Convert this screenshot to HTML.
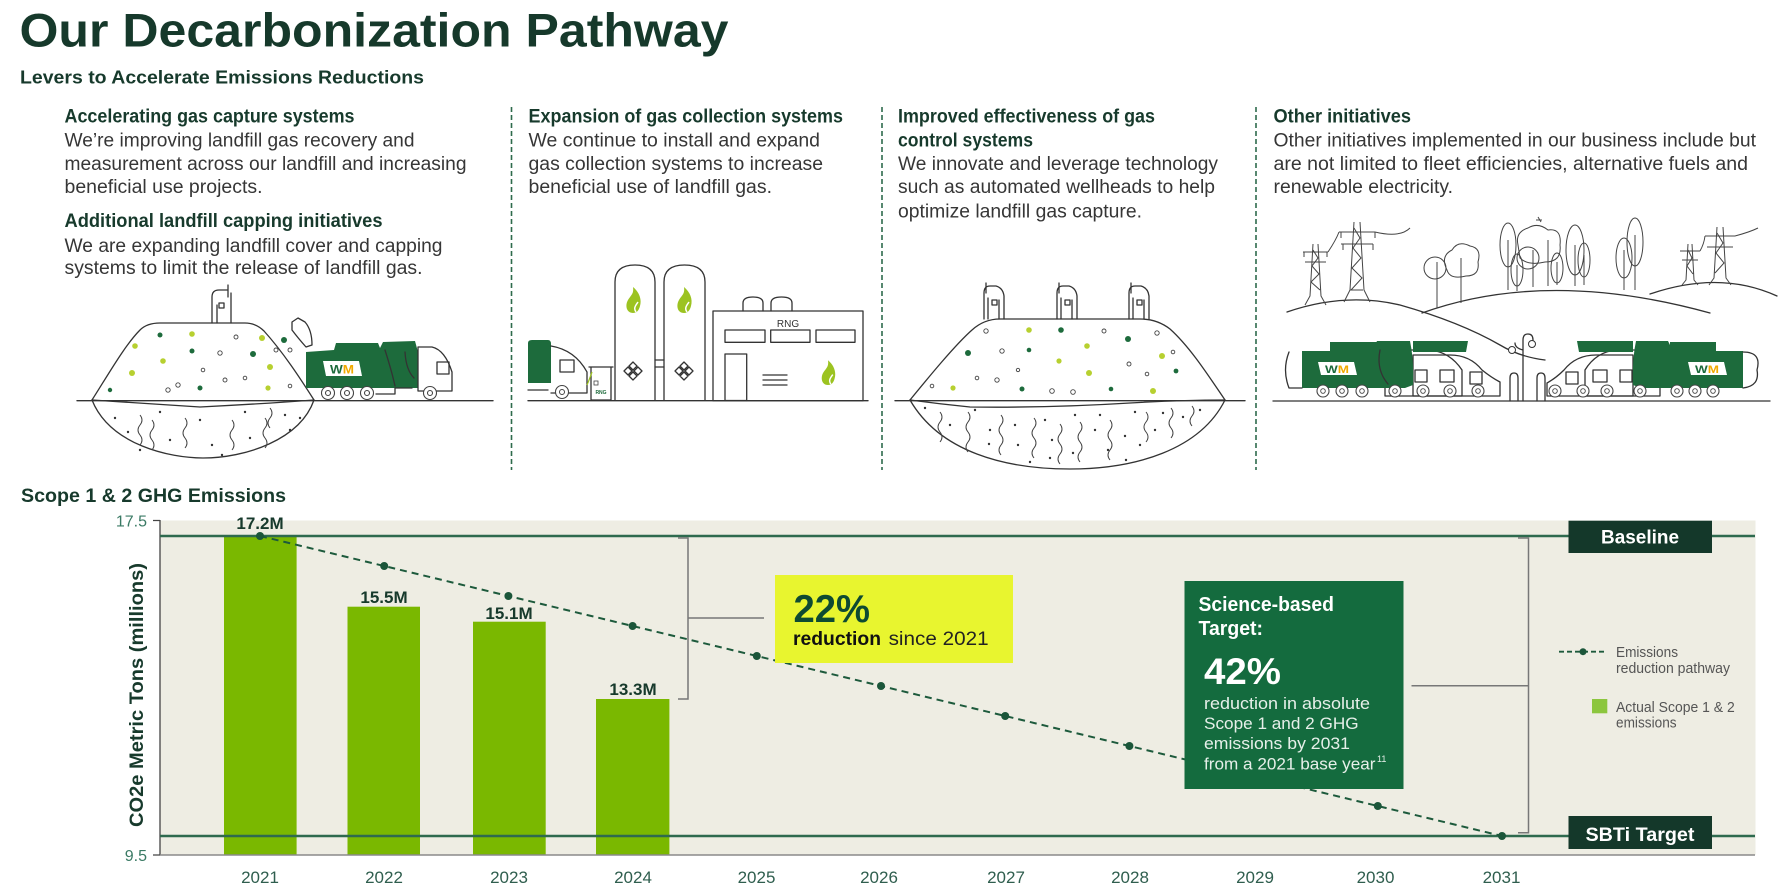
<!DOCTYPE html>
<html><head><meta charset="utf-8"><style>
html,body{margin:0;padding:0;background:#fff;}
svg{display:block;}
text{font-family:"Liberation Sans",Arial,sans-serif;}
.h{font-weight:bold;fill:#173a2c;font-size:19px;}
.b{fill:#363636;font-size:19px;}
.yr{fill:#2f5e4e;font-size:17px;text-anchor:middle;}
.dl{fill:#173a2c;font-size:17px;font-weight:bold;text-anchor:middle;}
.ln{fill:none;stroke:#333;stroke-width:1.3;stroke-linecap:round;stroke-linejoin:round;}
.lt{fill:none;stroke:#444;stroke-width:1;}
.dg{fill:#1d6b3c;}
.lm{fill:#b7d030;}
.wd{fill:#fff;stroke:#444;stroke-width:0.9;}
</style></head><body>
<svg width="1778" height="896" viewBox="0 0 1778 896" xmlns="http://www.w3.org/2000/svg">
<rect width="1778" height="896" fill="#fff"/>

<!-- Title -->
<text x="19.5" y="46.5" font-size="47" font-weight="bold" fill="#16392b" textLength="709" lengthAdjust="spacingAndGlyphs">Our Decarbonization Pathway</text>
<text x="20" y="83.5" font-size="18" font-weight="bold" fill="#173a2c" textLength="404" lengthAdjust="spacingAndGlyphs">Levers to Accelerate Emissions Reductions</text>

<!-- Column 1 text -->
<text class="h" x="64.5" y="122.5" textLength="290" lengthAdjust="spacingAndGlyphs">Accelerating gas capture systems</text>
<text class="b" x="64.5" y="146.5" textLength="350" lengthAdjust="spacingAndGlyphs">We’re improving landfill gas recovery and</text>
<text class="b" x="64.5" y="170" textLength="402" lengthAdjust="spacingAndGlyphs">measurement across our landfill and increasing</text>
<text class="b" x="64.5" y="193" textLength="198" lengthAdjust="spacingAndGlyphs">beneficial use projects.</text>
<text class="h" x="64.5" y="227" textLength="318" lengthAdjust="spacingAndGlyphs">Additional landfill capping initiatives</text>
<text class="b" x="64.5" y="252" textLength="378" lengthAdjust="spacingAndGlyphs">We are expanding landfill cover and capping</text>
<text class="b" x="64.5" y="274" textLength="358" lengthAdjust="spacingAndGlyphs">systems to limit the release of landfill gas.</text>

<!-- Column 2 text -->
<text class="h" x="528.5" y="122.5" textLength="314.5" lengthAdjust="spacingAndGlyphs">Expansion of gas collection systems</text>
<text class="b" x="528.5" y="146.5" textLength="291.5" lengthAdjust="spacingAndGlyphs">We continue to install and expand</text>
<text class="b" x="528.5" y="170" textLength="294.5" lengthAdjust="spacingAndGlyphs">gas collection systems to increase</text>
<text class="b" x="528.5" y="193" textLength="243.5" lengthAdjust="spacingAndGlyphs">beneficial use of landfill gas.</text>

<!-- Column 3 text -->
<text class="h" x="898" y="122.5" textLength="257" lengthAdjust="spacingAndGlyphs">Improved effectiveness of gas</text>
<text class="h" x="898" y="146.5" textLength="135" lengthAdjust="spacingAndGlyphs">control systems</text>
<text class="b" x="898" y="170" textLength="320" lengthAdjust="spacingAndGlyphs">We innovate and leverage technology</text>
<text class="b" x="898" y="193" textLength="317" lengthAdjust="spacingAndGlyphs">such as automated wellheads to help</text>
<text class="b" x="898" y="217.5" textLength="244" lengthAdjust="spacingAndGlyphs">optimize landfill gas capture.</text>

<!-- Column 4 text -->
<text class="h" x="1273.5" y="122.5" textLength="137.5" lengthAdjust="spacingAndGlyphs">Other initiatives</text>
<text class="b" x="1273.5" y="146.5" textLength="482.5" lengthAdjust="spacingAndGlyphs">Other initiatives implemented in our business include but</text>
<text class="b" x="1273.5" y="170" textLength="474.5" lengthAdjust="spacingAndGlyphs">are not limited to fleet efficiencies, alternative fuels and</text>
<text class="b" x="1273.5" y="193" textLength="179.5" lengthAdjust="spacingAndGlyphs">renewable electricity.</text>

<!-- Dividers -->
<g stroke="#2e6b4c" stroke-width="1.6" stroke-dasharray="5 3">
<line x1="511.5" y1="107" x2="511.5" y2="470"/>
<line x1="882" y1="107" x2="882" y2="470"/>
<line x1="1256" y1="107" x2="1256" y2="470"/>
</g>

<!-- ===== Illustration 1: landfill + truck ===== -->
<g>
<path class="ln" d="M77,400.7 H493"/>
<path class="ln" d="M92,400 C108,375 125,345 140,330 Q147,323 160,323 H245 Q256,323 264,331 C283,352 300,378 314,400"/>
<path class="ln" d="M92,400 C110,445 170,458 203,458 C245,458 300,440 314,400"/>
<path class="ln" d="M92,400 Q150,404 200,407 Q260,404 314,400"/>
<path class="ln" d="M212,323 V297 Q212,290 219,290 H227 M231,323 V293 M217,323 V305 M219,303 h5 v5 h-5 z M228,285 v12"/>
<g class="lt">
<path d="M140,415 q4,5 0,10 t0,10 t0,10"/><path d="M152,420 q4,5 0,10 t0,10 t0,10"/>
<path d="M185,418 q4,5 0,10 t0,10 t0,10"/><path d="M232,420 q4,5 0,10 t0,10 t0,10"/>
<path d="M265,418 q4,5 0,10 t0,10 t0,10"/><path d="M270,408 q4,5 0,10 t0,10"/>
</g>
<g fill="#333">
<circle cx="115" cy="418" r="1.2"/><circle cx="128" cy="432" r="1.2"/><circle cx="160" cy="412" r="1.2"/><circle cx="170" cy="440" r="1.2"/><circle cx="200" cy="420" r="1.2"/><circle cx="212" cy="445" r="1.2"/><circle cx="245" cy="412" r="1.2"/><circle cx="250" cy="438" r="1.2"/><circle cx="285" cy="415" r="1.2"/><circle cx="290" cy="430" r="1.2"/><circle cx="140" cy="450" r="1.2"/><circle cx="222" cy="455" r="1.2"/><circle cx="300" cy="418" r="1.2"/>
</g>
<g>
<circle class="dg" cx="160" cy="335" r="2.5"/><circle class="lm" cx="192" cy="334" r="2.8"/><circle class="wd" cx="236" cy="337" r="2"/><circle class="lm" cx="262" cy="338" r="3"/>
<circle class="lm" cx="135" cy="346" r="2.8"/><circle class="dg" cx="192" cy="351" r="2.5"/><circle class="wd" cx="220" cy="353" r="2.2"/><circle class="dg" cx="253" cy="354" r="3"/><circle class="wd" cx="276" cy="350" r="2"/>
<circle class="lm" cx="163" cy="361" r="2.8"/><circle class="wd" cx="203" cy="370" r="1.8"/><circle class="lm" cx="270" cy="367" r="3"/>
<circle class="lm" cx="132" cy="373" r="3"/><circle class="wd" cx="225" cy="380" r="2"/><circle class="wd" cx="245" cy="378" r="1.8"/><circle class="wd" cx="178" cy="385" r="2.2"/><circle class="wd" cx="168" cy="390" r="2.2"/>
<circle class="dg" cx="110" cy="390" r="2.2"/><circle class="dg" cx="200" cy="388" r="2.5"/><circle class="lm" cx="268" cy="388" r="2.6"/><circle class="wd" cx="290" cy="386" r="1.8"/><circle class="wd" cx="290" cy="350" r="2"/><circle class="dg" cx="284" cy="340" r="3"/>
</g>
<path class="ln" d="M292,322 L298,318 L305,322 Q312,330 312,345 L306,347 Q298,338 292,330 Z"/>
<path class="dg" d="M306,352 L334,350 L336,343 L378,343 L380,348 L383,342 L415,341 L418,352 L418,388 L306,388 Z"/>
<path class="ln" fill="#fff" d="M418,347 H432 Q445,350 452,372 V391 H418 Z"/>
<path class="ln" d="M437,362 h12 v12 h-12 z M385,350 Q392,372 395,386 M405,352 Q406,370 414,378"/>
<path fill="#fff" d="M323,361 H359 L362,376 H326 Z"/>
<text x="330" y="373.5" font-size="12" font-weight="bold" fill="#1d6b3c" textLength="24" lengthAdjust="spacingAndGlyphs">W<tspan fill="#f2a900">M</tspan></text>
<g fill="#fff" stroke="#444" stroke-width="1.1">
<circle cx="328" cy="393" r="6.5"/><circle cx="347" cy="393" r="6.5"/><circle cx="367" cy="393" r="6.5"/><circle cx="430" cy="393" r="6.5"/>
<circle cx="328" cy="393" r="2.5"/><circle cx="347" cy="393" r="2.5"/><circle cx="367" cy="393" r="2.5"/><circle cx="430" cy="393" r="2.5"/>
</g>
<path class="ln" d="M376,394 H395 V388 H412"/>
</g>

<!-- ===== Illustration 2: RNG plant ===== -->
<g>
<path class="ln" d="M528,400.7 H868"/>
<path class="ln" fill="#fff" d="M615,400 V282 Q615,265 635,265 Q655,265 655,282 V400"/>
<path class="ln" fill="#fff" d="M664,400 V282 Q664,265 684.5,265 Q705,265 705,282 V400"/>
<path class="ln" d="M655,360 H664 M655,367 H664"/>
<g transform="translate(633,313)"><path fill="#9cc321" d="M0,0 C-7,0 -8,-8 -5,-13 C-2,-18 1,-19 0,-26 C6,-21 9,-14 7,-7 C6,-3 4,0 0,0 Z"/><path d="M3,-1 C0,-5 3,-8 5,-11" stroke="#fff" stroke-width="1.5" fill="none"/></g>
<g transform="translate(684,313)"><path fill="#9cc321" d="M0,0 C-7,0 -8,-8 -5,-13 C-2,-18 1,-19 0,-26 C6,-21 9,-14 7,-7 C6,-3 4,0 0,0 Z"/><path d="M3,-1 C0,-5 3,-8 5,-11" stroke="#fff" stroke-width="1.5" fill="none"/></g>
<g class="ln" stroke-width="1">
<path d="M633,366 l4,4 l-4,4 l-4,-4 z M633,376 l4,4 l-4,4 l-4,-4 z M628,371 l4,4 l-4,4 l-4,-4 z M638,371 l4,4 l-4,4 l-4,-4 z" transform="translate(0,-4)"/>
<path d="M684,366 l4,4 l-4,4 l-4,-4 z M684,376 l4,4 l-4,4 l-4,-4 z M679,371 l4,4 l-4,4 l-4,-4 z M689,371 l4,4 l-4,4 l-4,-4 z" transform="translate(0,-4)"/>
</g>
<path class="ln" d="M743,311 V303 Q743,297 753,297 Q763,297 763,303 V311 M771,311 V303 Q771,297 781.5,297 Q792,297 792,303 V311"/>
<rect class="ln" x="713" y="311" width="150" height="89.7"/>
<text x="788" y="327" font-size="10" fill="#333" text-anchor="middle">RNG</text>
<rect class="ln" x="725" y="330" width="40" height="12.3"/>
<rect class="ln" x="770.7" y="330" width="39.3" height="12.3"/>
<rect class="ln" x="816" y="330" width="39" height="12.3"/>
<rect class="ln" x="725" y="354" width="21.7" height="46.5"/>
<path class="ln" d="M763,375 H787 M763,380 H787 M763,385 H787"/>
<g transform="translate(828,385) scale(0.95)"><path fill="#9cc321" d="M0,0 C-7,0 -8,-8 -5,-13 C-2,-18 1,-19 0,-26 C6,-21 9,-14 7,-7 C6,-3 4,0 0,0 Z"/><path d="M3,-1 C0,-5 3,-8 5,-11" stroke="#fff" stroke-width="1.5" fill="none"/></g>
<path class="dg" d="M528,343 Q528,340 532,340 H548 Q551,340 551,344 V383 H528 Z"/>
<path class="ln" d="M551,346 Q575,350 587,372 V393 H551 M560,360 h14 v12 h-14 z M528,390 H548"/>
<circle cx="562" cy="392" r="6.5" fill="#fff" stroke="#444" stroke-width="1.1"/><circle cx="562" cy="392" r="2.5" fill="none" stroke="#444"/>
<path class="ln" d="M589,367 H613 M591,367 V400 H611 V367"/>
<rect x="594" y="381" width="4" height="4" fill="none" stroke="#444" stroke-width="0.8"/>
<text x="601" y="394" font-size="5" fill="#1d6b3c" text-anchor="middle" font-weight="bold">RNG</text>
<path d="M587,385 Q590,378 592,372" stroke="#9cc321" stroke-width="1.2" fill="none"/>
</g>

<!-- ===== Illustration 3: landfill wellheads ===== -->
<g>
<path class="ln" d="M895,400.7 H1245"/>
<path class="ln" d="M910,400 C928,378 955,345 972,330 Q984,319 1000,319 H1140 Q1157,319 1170,329 C1190,347 1208,375 1225,400"/>
<path class="ln" d="M910,400 C940,452 1005,469 1070,469 C1135,469 1200,450 1225,400"/>
<path class="ln" d="M910,400 Q940,404 970,407 Q1050,408 1130,403 Q1180,400 1225,400"/>
<g class="ln" stroke-width="1.1">
<path d="M984,319 V293 Q984,286 990,286 H996 Q1003,288 1004,296 V319 M988,319 V298 M999,319 V300 M992,300 h5 v5 h-5 z M986,283 v10"/>
<path d="M1057,319 V293 Q1057,286 1063,286 H1069 Q1076,288 1077,296 V319 M1061,319 V298 M1072,319 V300 M1065,300 h5 v5 h-5 z M1059,283 v10"/>
<path d="M1129,319 V293 Q1129,286 1135,286 H1141 Q1148,288 1149,296 V319 M1133,319 V298 M1144,319 V300 M1137,300 h5 v5 h-5 z M1131,283 v10"/>
</g>
<g class="lt">
<path d="M940,412 q4,5 0,10 t0,10 t0,10"/><path d="M968,412 q4,5 0,10 t0,10 t0,10 t0,10"/><path d="M1001,415 q4,5 0,10 t0,10 t0,10 t0,10"/>
<path d="M1034,418 q4,5 0,10 t0,10 t0,10 t0,10"/><path d="M1060,424 q4,5 0,10 t0,10 t0,10 t0,10"/><path d="M1080,422 q4,5 0,10 t0,10 t0,10 t0,10"/>
<path d="M1110,420 q4,5 0,10 t0,10 t0,10 t0,10"/><path d="M1146,412 q4,5 0,10 t0,10 t0,10"/><path d="M1171,408 q4,5 0,10 t0,10 t0,10"/><path d="M1192,406 q4,5 0,10 t0,10"/>
</g>
<g fill="#333">
<circle cx="925" cy="408" r="1.2"/><circle cx="950" cy="425" r="1.2"/><circle cx="975" cy="410" r="1.2"/><circle cx="990" cy="430" r="1.2"/><circle cx="989" cy="444" r="1.2"/><circle cx="1015" cy="425" r="1.2"/><circle cx="1018" cy="445" r="1.2"/><circle cx="1045" cy="420" r="1.2"/><circle cx="1052" cy="440" r="1.2"/><circle cx="1050" cy="458" r="1.2"/><circle cx="1075" cy="415" r="1.2"/><circle cx="1073" cy="453" r="1.2"/><circle cx="1095" cy="430" r="1.2"/><circle cx="1100" cy="415" r="1.2"/><circle cx="1108" cy="450" r="1.2"/><circle cx="1125" cy="436" r="1.2"/><circle cx="1135" cy="412" r="1.2"/><circle cx="1140" cy="445" r="1.2"/><circle cx="1155" cy="430" r="1.2"/><circle cx="1163" cy="413" r="1.2"/><circle cx="1183" cy="417" r="1.2"/><circle cx="1200" cy="410" r="1.2"/><circle cx="1030" cy="462" r="1.2"/><circle cx="1126" cy="460" r="1.2"/>
</g>
<g>
<circle class="wd" cx="986" cy="331" r="2.2"/><circle class="lm" cx="1029" cy="330" r="2.8"/><circle class="dg" cx="1061" cy="330" r="2.8"/><circle class="wd" cx="1104" cy="331" r="2"/><circle class="wd" cx="1157" cy="333" r="2.2"/>
<circle class="dg" cx="1128" cy="339" r="3"/><circle class="lm" cx="1087" cy="346" r="2.8"/><circle class="dg" cx="968" cy="353" r="3"/><circle class="wd" cx="1002" cy="351" r="2.2"/><circle class="dg" cx="1029" cy="350" r="2.3"/><circle class="lm" cx="1162" cy="356" r="3"/><circle class="wd" cx="1173" cy="352" r="1.8"/>
<circle class="lm" cx="1059" cy="361" r="2.6"/><circle class="wd" cx="1129" cy="364" r="2"/><circle class="dg" cx="1176" cy="371" r="2.4"/><circle class="wd" cx="1018" cy="370" r="1.7"/><circle class="lm" cx="1089" cy="373" r="3"/>
<circle class="wd" cx="977" cy="378" r="1.8"/><circle class="wd" cx="997" cy="380" r="2.2"/><circle class="wd" cx="1147" cy="374" r="1.8"/><circle class="wd" cx="932" cy="386" r="1.8"/><circle class="lm" cx="953" cy="388" r="2.6"/><circle class="dg" cx="1022" cy="389" r="2.5"/><circle class="wd" cx="1052" cy="391" r="2.3"/><circle class="wd" cx="1073" cy="392" r="2.3"/><circle class="dg" cx="1111" cy="389" r="2.3"/><circle class="lm" cx="1153" cy="391" r="3"/>
</g>
</g>

<!-- ===== Illustration 4: hills, towers, trees, trucks ===== -->
<g>
<path class="ln" d="M1273,401 H1770"/>
<path class="ln" d="M1287,312 Q1345,292 1400,305 Q1460,322 1500,345 Q1520,357 1545,360"/>
<path class="ln" d="M1422,313 Q1547,268 1710,313"/>
<path class="ln" d="M1650,294 Q1720,270 1777,296"/>
<!-- towers -->
<g class="lt" stroke="#333" stroke-width="1">
<path d="M1354,222 L1350,290 L1344,302 M1360,222 L1364,290 L1370,302 M1339,232 H1375 M1341,244 H1373 M1354,228 L1360,238 L1353,248 L1361,258 L1352,268 L1362,278 L1351,290 L1363,290 M1341,232 v6 M1375,232 v6 M1343,244 v6 M1373,244 v6"/>
<path d="M1313,244 L1310,296 L1305,305 M1318,244 L1321,296 L1326,305 M1303,252 H1328 M1305,262 H1326 M1313,250 L1318,258 L1312,266 L1319,274 L1311,282 L1320,290 M1304,252 v5 M1327,252 v5"/>
<path d="M1717,227 L1714,278 L1709,285 M1723,227 L1726,278 L1731,285 M1705,236 H1735 M1707,247 H1733 M1717,233 L1723,243 L1716,253 L1724,263 L1715,273"/>
<path d="M1688,244 L1686,280 L1682,285 M1692,244 L1694,280 L1698,285 M1680,251 H1700 M1682,260 H1698 M1688,250 L1692,258 L1687,266 L1693,274"/>
<path d="M1328,252 Q1336,240 1339,232 M1375,232 Q1400,238 1410,228 M1700,251 Q1704,244 1705,236 M1735,236 Q1750,232 1758,228"/>
</g>
<!-- trees -->
<g class="lt" stroke="#333" stroke-width="1">
<circle cx="1435" cy="268" r="11"/><path d="M1437,262 V308"/>
<path d="M1447,270 Q1440,256 1452,250 Q1458,240 1470,246 Q1482,248 1478,262 Q1480,276 1466,276 Q1450,280 1447,270 Z"/><path d="M1461,258 V303"/>
<ellipse cx="1508" cy="245" rx="8" ry="22"/><path d="M1508,240 V290"/>
<ellipse cx="1517" cy="270" rx="6" ry="16"/><path d="M1517,265 V291"/>
<path d="M1518,245 Q1515,232 1528,228 Q1538,222 1548,230 Q1562,228 1560,245 Q1562,262 1545,262 Q1528,266 1520,258 Z"/><path d="M1533,250 V287 M1548,240 V286"/>
<circle cx="1528" cy="258" r="11"/>
<ellipse cx="1575" cy="250" rx="9" ry="25"/><path d="M1575,245 V286"/>
<ellipse cx="1584" cy="260" rx="6" ry="17"/><path d="M1584,255 V285"/>
<ellipse cx="1557" cy="268" rx="6" ry="15"/><path d="M1557,262 V285"/>
<ellipse cx="1624" cy="258" rx="8" ry="20"/><path d="M1624,250 V290"/>
<ellipse cx="1635" cy="242" rx="8" ry="24"/><path d="M1635,235 V290"/>
<path d="M1536,220 h6 M1538,217 l3,5"/>
</g>
<!-- lamp post -->
<path class="ln" stroke-width="1.1" d="M1523,401 V340 Q1523,334 1528,334 Q1533,334 1533,340 M1523,350 Q1515,348 1515,343 M1510,401 V378 Q1510,373 1514,373 Q1518,373 1518,378 V401 M1537,401 V378 Q1537,373 1541,373 Q1545,373 1545,378 V401"/>
<circle cx="1512" cy="350" r="3.5" fill="#fff" stroke="#333"/><circle cx="1532" cy="344" r="3.5" fill="#fff" stroke="#333"/>
<!-- left trucks -->
<path class="ln" fill="#fff" d="M1413,355 H1450 Q1470,355 1482,370 Q1492,378 1500,382 V396 H1413 Z"/>
<path class="ln" fill="#fff" d="M1385,350 H1430 Q1450,352 1462,370 V396 H1385 Z"/>
<path class="ln" d="M1440,370 h14 v12 h-14 z M1470,372 h12 v12 h-12 z M1415,370 h12 v12 h-12 z"/>
<path class="dg" d="M1330,342 H1377 V351 H1330 Z M1413,341 H1468 L1466,352 H1413 Z"/>
<path class="dg" d="M1302,351 H1372 L1377,341 H1410 Q1414,360 1413,385 L1405,388 H1302 Z"/>
<path class="ln" d="M1289,352 Q1282,370 1289,388 H1302"/>
<path fill="#fff" d="M1318,362 H1354 L1357,375 H1321 Z"/>
<text x="1325" y="373" font-size="11" font-weight="bold" fill="#1d6b3c" textLength="24" lengthAdjust="spacingAndGlyphs">W<tspan fill="#f2a900">M</tspan></text>
<path class="ln" stroke="#fff" stroke-width="1.5" d="M1380,350 Q1376,370 1388,384"/>
<!-- right trucks -->
<path class="ln" fill="#fff" d="M1547,383 Q1556,378 1564,370 Q1576,355 1596,355 H1633 V396 H1547 Z"/>
<path class="ln" fill="#fff" d="M1585,370 Q1596,352 1616,350 H1660 V396 H1585 Z"/>
<path class="ln" d="M1566,372 h12 v12 h-12 z M1593,370 h14 v12 h-14 z M1620,370 h12 v12 h-12 z"/>
<path class="dg" d="M1577,341 H1633 L1633,352 H1579 Z M1670,342 H1716 V351 H1670 Z"/>
<path class="dg" d="M1743,351 H1673 L1668,341 H1636 Q1632,360 1633,385 L1641,388 H1743 Z"/>
<path class="ln" d="M1743,352 Q1762,352 1757,370 Q1760,386 1743,388"/>
<path fill="#fff" d="M1688,362 H1724 L1727,375 H1691 Z"/>
<text x="1695" y="373" font-size="11" font-weight="bold" fill="#1d6b3c" textLength="24" lengthAdjust="spacingAndGlyphs">W<tspan fill="#f2a900">M</tspan></text>
<!-- wheels -->
<g fill="#fff" stroke="#444" stroke-width="1.1">
<circle cx="1323" cy="391" r="6"/><circle cx="1342" cy="391" r="6"/><circle cx="1362" cy="391" r="6"/><circle cx="1395" cy="391" r="6"/><circle cx="1423" cy="391" r="6"/><circle cx="1450" cy="391" r="6"/><circle cx="1478" cy="391" r="6"/>
<circle cx="1555" cy="391" r="6"/><circle cx="1583" cy="391" r="6"/><circle cx="1607" cy="391" r="6"/><circle cx="1640" cy="391" r="6"/><circle cx="1677" cy="391" r="6"/><circle cx="1695" cy="391" r="6"/><circle cx="1713" cy="391" r="6"/>
</g>
<g fill="none" stroke="#444" stroke-width="0.9">
<circle cx="1323" cy="391" r="2.3"/><circle cx="1342" cy="391" r="2.3"/><circle cx="1362" cy="391" r="2.3"/><circle cx="1395" cy="391" r="2.3"/><circle cx="1423" cy="391" r="2.3"/><circle cx="1450" cy="391" r="2.3"/><circle cx="1478" cy="391" r="2.3"/>
<circle cx="1555" cy="391" r="2.3"/><circle cx="1583" cy="391" r="2.3"/><circle cx="1607" cy="391" r="2.3"/><circle cx="1640" cy="391" r="2.3"/><circle cx="1677" cy="391" r="2.3"/><circle cx="1695" cy="391" r="2.3"/><circle cx="1713" cy="391" r="2.3"/>
</g>
</g>

<!-- ===== Chart ===== -->
<text x="21" y="502" font-size="19" font-weight="bold" fill="#173a2c" textLength="265" lengthAdjust="spacingAndGlyphs">Scope 1 &amp; 2 GHG Emissions</text>
<rect x="160" y="520.5" width="1595.5" height="334.5" fill="#eeede3"/>

<!-- bars -->
<g fill="#7ab800">
<rect x="224" y="536" width="72.6" height="319"/>
<rect x="347.5" y="606.7" width="72.5" height="248.3"/>
<rect x="473" y="621.7" width="72.7" height="233.3"/>
<rect x="596" y="699" width="73.4" height="156"/>
</g>

<!-- axes -->
<path d="M160,520 V855 M153,520.5 H160 M153,855 H160" stroke="#444" stroke-width="1.3" fill="none"/>
<path d="M160,855 H1755" stroke="#8a8a8a" stroke-width="1.6"/>
<text x="147" y="526.5" font-size="16" fill="#3a7a64" text-anchor="end">17.5</text>
<text x="147" y="861" font-size="16" fill="#3a7a64" text-anchor="end">9.5</text>
<text transform="translate(143,695) rotate(-90)" font-size="19" font-weight="bold" fill="#173a2c" text-anchor="middle" textLength="264" lengthAdjust="spacingAndGlyphs">CO2e Metric Tons (millions)</text>

<!-- baseline & target lines -->
<path d="M160,536 H1755 M160,836 H1755" stroke="#2e6a4e" stroke-width="2.5"/>

<!-- pathway -->
<path d="M260,536 L1502,836" stroke="#1d5a3c" stroke-width="2" stroke-dasharray="7 5" fill="none"/>
<g fill="#1b563a">
<circle cx="260" cy="536" r="4"/><circle cx="384.2" cy="566" r="4"/><circle cx="508.4" cy="596" r="4"/><circle cx="632.6" cy="626" r="4"/><circle cx="756.8" cy="656" r="4"/><circle cx="881" cy="686" r="4"/><circle cx="1005.2" cy="716" r="4"/><circle cx="1129.4" cy="746" r="4"/><circle cx="1253.6" cy="776" r="4"/><circle cx="1377.8" cy="806" r="4"/><circle cx="1502" cy="836" r="4"/>
</g>

<!-- data labels -->
<text class="dl" x="260" y="529">17.2M</text>
<text class="dl" x="384" y="603">15.5M</text>
<text class="dl" x="509" y="619">15.1M</text>
<text class="dl" x="633" y="695">13.3M</text>

<!-- year labels -->
<text class="yr" x="260" y="883">2021</text>
<text class="yr" x="384" y="883">2022</text>
<text class="yr" x="509" y="883">2023</text>
<text class="yr" x="633" y="883">2024</text>
<text class="yr" x="756.5" y="883">2025</text>
<text class="yr" x="879" y="883">2026</text>
<text class="yr" x="1006" y="883">2027</text>
<text class="yr" x="1130" y="883">2028</text>
<text class="yr" x="1255" y="883">2029</text>
<text class="yr" x="1375.5" y="883">2030</text>
<text class="yr" x="1501.5" y="883">2031</text>

<!-- bracket 1 + yellow box -->
<path d="M678,538 H688 V699 H678 M688,618 H764" stroke="#777" stroke-width="1.5" fill="none"/>
<rect x="775" y="575" width="238" height="88" fill="#e8f52f"/>
<text x="793.5" y="622" font-size="39" font-weight="bold" fill="#0e4a32" textLength="76.5" lengthAdjust="spacingAndGlyphs">22%</text>
<text x="793" y="645" font-size="19" font-weight="bold" fill="#111" textLength="88" lengthAdjust="spacingAndGlyphs">reduction</text>
<text x="888.6" y="645" font-size="19" fill="#222" textLength="100" lengthAdjust="spacingAndGlyphs">since 2021</text>

<!-- bracket 2 + green box -->
<path d="M1518,538 H1528.5 V832.7 H1518 M1411.5,685.7 H1528.5" stroke="#777" stroke-width="1.5" fill="none"/>
<rect x="1184.5" y="581" width="219" height="208" fill="#146b3e"/>
<text x="1198.5" y="611" font-size="20" font-weight="bold" fill="#fff" textLength="135.5" lengthAdjust="spacingAndGlyphs">Science-based</text>
<text x="1198.5" y="635" font-size="20" font-weight="bold" fill="#fff" textLength="64.5" lengthAdjust="spacingAndGlyphs">Target:</text>
<text x="1204" y="684" font-size="37" font-weight="bold" fill="#fff" textLength="77" lengthAdjust="spacingAndGlyphs">42%</text>
<g font-size="17" fill="#e6efe9">
<text x="1204" y="709" textLength="166" lengthAdjust="spacingAndGlyphs">reduction in absolute</text>
<text x="1204" y="729" textLength="154.6" lengthAdjust="spacingAndGlyphs">Scope 1 and 2 GHG</text>
<text x="1204" y="749" textLength="146" lengthAdjust="spacingAndGlyphs">emissions by 2031</text>
<text x="1204" y="769.5" textLength="171.5" lengthAdjust="spacingAndGlyphs">from a 2021 base year</text>
</g>
<text x="1377" y="762" font-size="9" fill="#e6efe9">11</text>

<!-- Baseline / SBTi boxes -->
<rect x="1568.5" y="520.7" width="143.5" height="32.3" fill="#14382a"/>
<text x="1640" y="543.5" font-size="19" font-weight="bold" fill="#fff" text-anchor="middle" textLength="78" lengthAdjust="spacingAndGlyphs">Baseline</text>
<rect x="1568.5" y="816" width="143.5" height="33" fill="#14382a"/>
<text x="1640" y="841" font-size="19" font-weight="bold" fill="#fff" text-anchor="middle" textLength="109" lengthAdjust="spacingAndGlyphs">SBTi Target</text>

<!-- legend -->
<path d="M1559,651.7 H1606.5" stroke="#1d5a3c" stroke-width="1.8" stroke-dasharray="5 3"/>
<circle cx="1583" cy="651.7" r="3.5" fill="#1b563a"/>
<g font-size="14.5" fill="#555">
<text x="1616" y="657" textLength="62" lengthAdjust="spacingAndGlyphs">Emissions</text>
<text x="1616" y="673" textLength="114" lengthAdjust="spacingAndGlyphs">reduction pathway</text>
<text x="1616" y="712" textLength="118.7" lengthAdjust="spacingAndGlyphs">Actual Scope 1 &amp; 2</text>
<text x="1616" y="727.5" textLength="60.6" lengthAdjust="spacingAndGlyphs">emissions</text>
</g>
<rect x="1592" y="699" width="15.3" height="14.3" fill="#8cc63e"/>
</svg>
</body></html>
